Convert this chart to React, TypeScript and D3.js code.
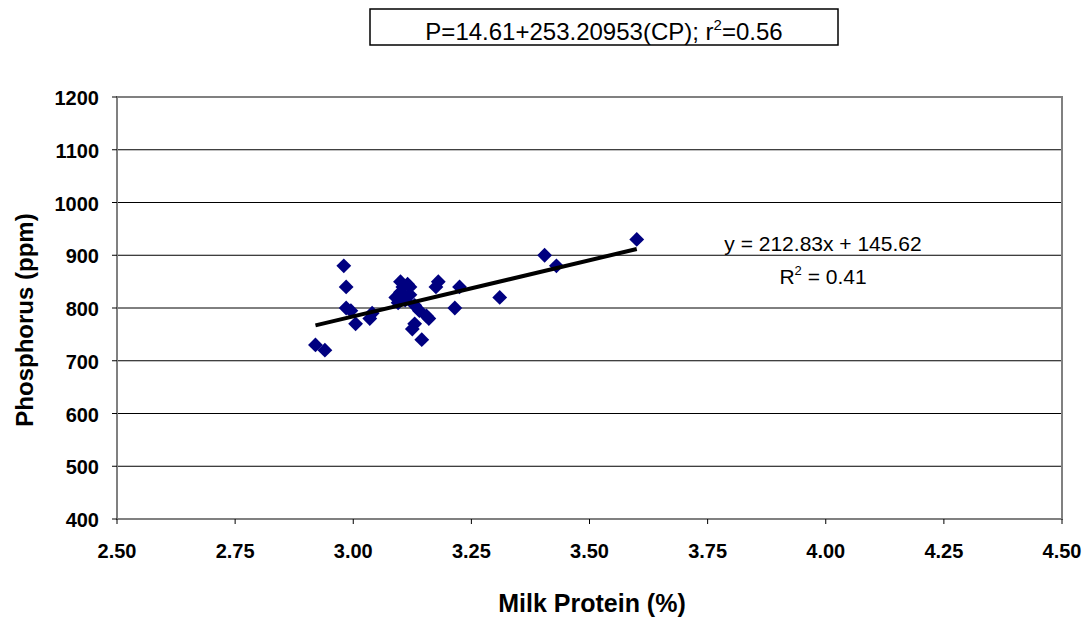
import React from "react";
import * as d3 from "d3";

const proteinPct: number[] = [2.92, 2.94, 2.98, 2.985, 2.985, 2.995, 3.005, 3.035, 3.04, 3.09, 3.095, 3.1, 3.1, 3.105, 3.11, 3.115, 3.12, 3.12, 3.13, 3.14, 3.155, 3.16, 3.13, 3.125, 3.145, 3.175, 3.18, 3.215, 3.225, 3.31, 3.405, 3.43, 3.6];
const phosphorusPpm: number[] = [730, 720, 880, 840, 800, 795, 770, 780, 790, 820, 810, 850, 830, 840, 815, 845, 825, 840, 805, 795, 785, 780, 770, 760, 740, 840, 850, 800, 840, 820, 900, 880, 930];
const xTicks: number[] = [2.5, 2.75, 3.0, 3.25, 3.5, 3.75, 4.0, 4.25, 4.5];
const yTicks: number[] = [400, 500, 600, 700, 800, 900, 1000, 1100, 1200];
const slope = 212.83;
const intercept = 145.62;
const titleText = "P=14.61+253.20953(CP); r";
const trendLabel = "y = 212.83x + 145.62";

export default function App() {
  const left = 117, right = 1062, top = 97, bottom = 519;
  const x = d3.scaleLinear().domain([2.5, 4.5]).range([left, right]);
  const y = d3.scaleLinear().domain([400, 1200]).range([bottom, top]);
  const pts = proteinPct.map((v, i) => [v, phosphorusPpm[i]] as [number, number]);
  const xMin = d3.min(proteinPct) as number;
  const xMax = d3.max(proteinPct) as number;
  const line = d3.line<number>().x((d) => x(d)).y((d) => y(slope * d + intercept));
  const diamond = d3.symbol().type(d3.symbolSquare).size(110)();
  const font = "'Liberation Sans', Arial, sans-serif";
  return (
    <svg width={1090} height={620} style={{ position: "absolute", left: 0, top: 0 }} fontFamily={font}>
      <rect width={1090} height={620} fill="#fff" />
      {/* title box */}
      <rect x={370} y={9} width={468} height={36} fill="#fff" stroke="#000" strokeWidth={1.5} />
      <text x={604} y={40} textAnchor="middle" fontSize={24}>
        {titleText}
        <tspan dy={-10} fontSize={15}>2</tspan>
        <tspan dy={10}>=0.56</tspan>
      </text>
      {/* gridlines */}
      {yTicks.slice(1, -1).map((t) => (
        <line key={t} x1={left} x2={right} y1={y(t)} y2={y(t)} stroke="#000" strokeWidth={1} />
      ))}
      {/* frame */}
      <rect x={left} y={top} width={right - left} height={bottom - top} fill="none" stroke="#808080" strokeWidth={2} />
      {/* y ticks */}
      {yTicks.map((t) => (
        <g key={t}>
          <line x1={left - 5} x2={left} y1={y(t)} y2={y(t)} stroke="#000" strokeWidth={1} />
          <text x={left - 18} y={y(t) + 8} textAnchor="end" fontSize={20} fontWeight="bold">{t}</text>
        </g>
      ))}
      {/* x ticks */}
      {xTicks.map((t) => (
        <g key={t}>
          <line x1={x(t)} x2={x(t)} y1={bottom} y2={bottom + 5} stroke="#000" strokeWidth={1} />
          <text x={x(t)} y={bottom + 39} textAnchor="middle" fontSize={20} fontWeight="bold">{t.toFixed(2)}</text>
        </g>
      ))}
      {/* points */}
      {pts.map((p, i) => (
        <path key={i} d={diamond as string} transform={`translate(${x(p[0])},${y(p[1])}) rotate(45)`} fill="#000080" />
      ))}
      {/* trend line */}
      <path d={line([xMin, xMax]) as string} stroke="#000" strokeWidth={4} fill="none" />
      {/* trend label */}
      <text x={823} y={251} textAnchor="middle" fontSize={21}>{trendLabel}</text>
      <text x={823} y={284} textAnchor="middle" fontSize={21}>
        R<tspan dy={-9} fontSize={13}>2</tspan><tspan dy={9}> = 0.41</tspan>
      </text>
      {/* axis titles */}
      <text x={592} y={612} textAnchor="middle" fontSize={25} fontWeight="bold">Milk Protein (%)</text>
      <text transform={`translate(33,320) rotate(-90)`} textAnchor="middle" fontSize={24} fontWeight="bold">Phosphorus (ppm)</text>
    </svg>
  );
}
